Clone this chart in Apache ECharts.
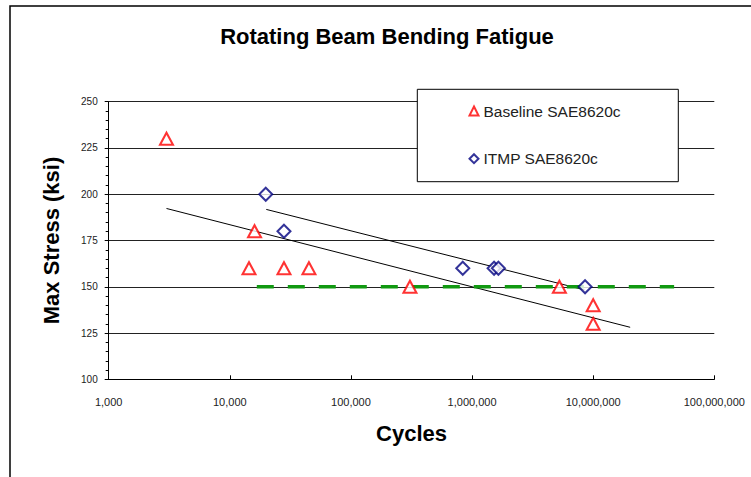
<!DOCTYPE html>
<html>
<head>
<meta charset="utf-8">
<script src="https://cdn.jsdelivr.net/npm/echarts@6/dist/echarts.min.js"></script>
<style>
html,body{margin:0;padding:0;background:#fff;}
#chart{width:751px;height:477px;}
</style>
</head>
<body>
<div id="chart"></div>
<script>
// ---- data ----
const titleText = 'Rotating Beam Bending Fatigue';
const xAxisName = 'Cycles';
const yAxisName = 'Max Stress (ksi)';

const baselineName = 'Baseline SAE8620c';
const baselineCycles = [3000, 16000, 14400, 28000, 45000, 307000, 5260000, 10000000, 10000000];
const baselineStress = [230, 180, 160, 160, 160, 150, 150, 140, 130];

const itmpName = 'ITMP SAE8620c';
const itmpCycles = [19800, 28000, 838000, 1520000, 1650000, 8570000];
const itmpStress = [200, 180, 160, 160, 160, 150];

const baselineTrendCycles = [3000, 20200000];
const baselineTrendStress = [192.3, 128.1];
const itmpTrendCycles = [20000, 8500000];
const itmpTrendStress = [191.8, 148.3];

const enduranceCycles = [16700, 46600000];
const enduranceStress = [150, 150];

const xMin = 1000, xMax = 100000000;
const yMin = 100, yMax = 250, yInterval = 25;

const pairs = (xs, ys) => xs.map((x, i) => [x, ys[i]]);

const chart = echarts.init(document.getElementById('chart'), null, {renderer: 'svg'});
const font = 'Liberation Sans, Arial, sans-serif';

chart.setOption({
  animation: false,
  backgroundColor: '#fff',
  grid: {left: 108.7, right: 36.7, top: 101.7, bottom: 97.7, containLabel: false},
  xAxis: {
    type: 'log', logBase: 10, min: xMin, max: xMax,
    name: xAxisName, nameLocation: 'middle', nameGap: 43,
    nameTextStyle: {fontFamily: font, fontSize: 22, fontWeight: 'bold', color: '#000'},
    axisLine: {lineStyle: {color: '#000', width: 1}},
    axisTick: {show: true, inside: true, length: 4, lineStyle: {color: '#000'}},
    minorTick: {show: false},
    splitLine: {show: false},
    axisLabel: {
      margin: 17, fontFamily: font, fontSize: 11, color: '#222',
      formatter: v => Math.round(v).toLocaleString('en-US')
    }
  },
  yAxis: {
    type: 'value', min: yMin, max: yMax, interval: yInterval,
    name: yAxisName, nameLocation: 'middle', nameGap: 46, nameRotate: 90,
    nameTextStyle: {fontFamily: font, fontSize: 22, fontWeight: 'bold', color: '#000'},
    axisLine: {show: true, lineStyle: {color: '#000', width: 1}},
    axisTick: {show: true, length: 4, lineStyle: {color: '#000'}},
    minorTick: {show: true, splitNumber: 5, length: 3, lineStyle: {color: '#000'}},
    splitLine: {show: true, lineStyle: {color: '#222', width: 1}},
    axisLabel: {margin: 11, fontFamily: font, fontSize: 10, color: '#222'}
  },
  legend: {
    data: [baselineName, itmpName],
    orient: 'vertical',
    left: 463.5, top: 98,
    itemWidth: 9, itemHeight: 9, itemGap: 31.7,
    textStyle: {fontFamily: font, fontSize: 15.5, color: '#222', lineHeight: 14},
    z: 10
  },
  graphic: [
    {type: 'rect', shape: {x: 417.3, y: 89.3, width: 261, height: 92.4},
     style: {fill: '#fff', stroke: '#000', lineWidth: 1}, z: 5},
    {type: 'rect', shape: {x: 10, y: 6, width: 800, height: 500},
     style: {fill: 'none', stroke: '#000', lineWidth: 1.5}, z: 5, silent: true},
    {type: 'text', x: 387, y: 36, z: 10,
     style: {text: titleText, font: 'bold 22px ' + font, fill: '#000', textAlign: 'center', textVerticalAlign: 'middle'}}
  ],
  series: [
    {name: 'Baseline trend', type: 'line', data: pairs(baselineTrendCycles, baselineTrendStress),
     showSymbol: false, symbol: 'none', lineStyle: {color: '#000', width: 1}, z: 2},
    {name: 'ITMP trend', type: 'line', data: pairs(itmpTrendCycles, itmpTrendStress),
     showSymbol: false, symbol: 'none', lineStyle: {color: '#000', width: 1}, z: 2},
    {name: 'Endurance', type: 'line', data: pairs(enduranceCycles, enduranceStress),
     showSymbol: false, symbol: 'none',
     lineStyle: {color: '#119911', width: 3.5, type: [17, 14]}, z: 3},
    {name: baselineName, type: 'scatter', data: pairs(baselineCycles, baselineStress),
     symbol: 'triangle', symbolSize: [13, 12],
     itemStyle: {color: '#fff', borderColor: '#ff0000', borderWidth: 2}, z: 4},
    {name: itmpName, type: 'scatter', data: pairs(itmpCycles, itmpStress),
     symbol: 'diamond', symbolSize: [13, 13],
     itemStyle: {color: '#fff', borderColor: '#000080', borderWidth: 2}, z: 4}
  ]
});
</script>
</body>
</html>
